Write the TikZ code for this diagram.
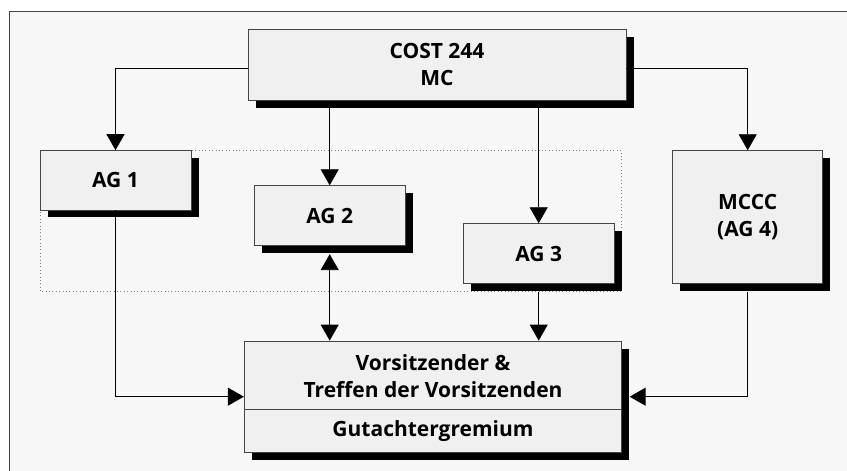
\documentclass[tikz,border=0pt]{standalone}
\usepackage{fontspec}
\setmainfont{Open Sans}
\usetikzlibrary{arrows.meta,shadows}
\definecolor{bgc}{HTML}{F7F7F7}
\definecolor{boxc}{HTML}{F0F0F0}
\definecolor{edgec}{HTML}{444444}
\tikzset{
  box/.style={draw=edgec, line width=0.9pt, fill=boxc, inner sep=0pt, align=center,
    font=\fontsize{21}{27}\selectfont\bfseries,
    drop shadow={shadow xshift=7.5pt, shadow yshift=-7.5pt, fill=black, opacity=1}},
  lbl/.style={inner sep=0pt, align=center, font=\fontsize{21}{27}\selectfont\bfseries},
  conn/.style={draw=black, line width=0.9pt},
  tip/.tip={Triangle[width=18pt,length=16pt]},
  arr/.style={conn, -tip},
  darr/.style={conn, tip-tip}
}
\begin{document}
\begin{tikzpicture}[x=1pt,y=-1pt]
\useasboundingbox (0,0) rectangle (847,471);
\clip (0,0) rectangle (847,471);
\fill[white] (0,0) rectangle (847,471);
\draw[fill=bgc, draw=edgec, line width=0.9pt] (9.5,11) rectangle (900,520);
% dotted group
\draw[gray, line width=0.8pt, dash pattern=on 0.8pt off 2.6pt] (40,150.7) rectangle (621.7,291.3);
% boxes
\node[box, minimum width=378pt, minimum height=71.7pt] (cost) at (437,64.9) {COST 244\\MC};
\node[box, minimum width=151pt, minimum height=59.3pt] (ag1) at (115.5,180.3) {AG 1};
\node[box, minimum width=150.7pt, minimum height=60pt] (ag2) at (329.7,215.7) {AG 2};
\node[box, minimum width=150.7pt, minimum height=59.6pt] (ag3) at (538.7,253.5) {AG 3};
\node[box, minimum width=150pt, minimum height=132.6pt] (mccc) at (747.7,217) {MCCC\\(AG 4)};
\node[box, minimum width=377.4pt, minimum height=111.3pt] (bot) at (433,396.7) {};
\draw[edgec, line width=0.9pt] (bot.west |- 0,409) -- (bot.east |- 0,409);
\node[lbl] (botup) at (433,376) {Vorsitzender \&\\Treffen der Vorsitzenden};
\node[lbl] (botlow) at (433,431) {Gutachtergremium};
% connectors
\draw[arr] ([yshift=-4pt]cost.west) -| (ag1.north);
\draw[arr] ([yshift=-4pt]cost.east) -| (mccc.north);
\draw[arr] (cost.south -| ag2.north) -- (ag2.north);
\draw[arr] (cost.south -| ag3.north) -- (ag3.north);
\draw[darr] ([yshift=-8pt]ag2.south) -- (ag2.south |- bot.north);
\draw[arr] ([yshift=-8pt]ag3.south) -- (ag3.south |- bot.north);
\draw[arr] (ag1.south) |- (bot.west);
\draw[arr] ([yshift=-8pt]mccc.south) |- ([xshift=7.5pt]bot.east);
\end{tikzpicture}
\end{document}
